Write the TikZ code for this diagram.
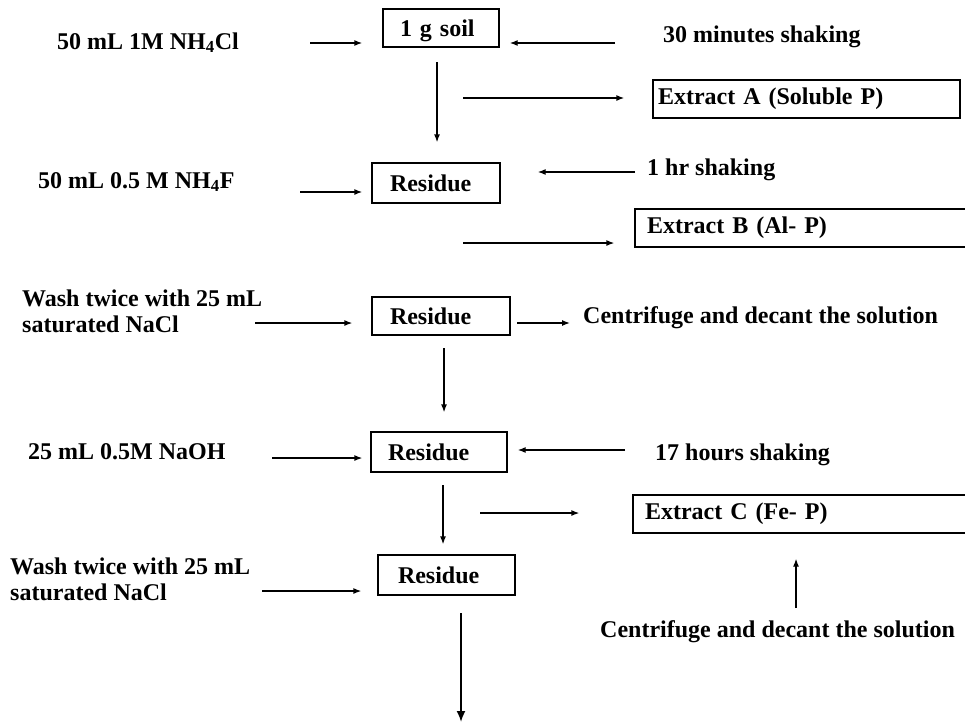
\documentclass[tikz,border=0pt]{standalone}
\usepackage{fontspec}
\setmainfont{Liberation Serif}
\usetikzlibrary{arrows.meta}
\begin{document}
\begin{tikzpicture}[x=1pt,y=-1pt,
  font=\fontsize{24}{26}\selectfont\bfseries,
  box/.style={draw, line width=1.3pt, inner ysep=0pt, align=left},
  lbl/.style={anchor=base west, inner sep=0pt},
  arr/.style={line width=1.3pt, -{Latex[length=8pt,width=6pt]}},
  bigarr/.style={line width=1.8pt, -{Latex[length=11pt,width=9pt]}}]
\clip (0,0) rectangle (965,723);
% boxes
\node[box, inner xsep=17pt, text width=82pt, minimum height=38pt, text depth=0pt] (soil) at (441,28) {1 g soil};
\node[box, inner xsep=18pt, text width=92pt, minimum height=40pt] (r1) at (436,183) {Residue};
\node[box, inner xsep=18pt, text width=102pt, minimum height=38pt] (r2) at (441,316) {Residue};
\node[box, inner xsep=17pt, text width=102pt, minimum height=40pt] (r3) at (439,452) {Residue};
\node[box, inner xsep=20pt, text width=97pt, minimum height=40pt] (r4) at (446.5,575) {Residue};
\node[box, inner xsep=5pt, text width=297pt, minimum height=38pt] (extA) at (806.5,99) {Extract A (Soluble P)};
\node[box, inner xsep=12pt, text width=316pt, minimum height=38pt] (extB) at (805,228) {Extract B (Al- P)};
\node[box, inner xsep=12pt, text width=318pt, minimum height=38pt] (extC) at (804,514) {Extract C (Fe- P)};
% labels
\node[lbl] (t1) at (57,49) {50 mL 1M NH\textsubscript{4}Cl};
\node[lbl] (s1) at (663,42) {30 minutes shaking};
\node[lbl] (t2) at (38,188) {50 mL 0.5 M NH\textsubscript{4}F};
\node[lbl] (s2) at (647,175) {1 hr shaking};
\node[lbl, align=left] (w1) at (22,332) {Wash twice with 25 mL\\saturated NaCl};
\node[lbl] (c1) at (583,323) {Centrifuge and decant the solution};
\node[lbl] (t3) at (28,459) {25 mL 0.5M NaOH};
\node[lbl] (s3) at (655,460) {17 hours shaking};
\node[lbl, align=left] (w2) at (10,600) {Wash twice with 25 mL\\saturated NaCl};
\node[lbl] (c2) at (600,637) {Centrifuge and decant the solution};
% arrow start points
\coordinate (p1) at (310,43);
\coordinate (p2) at (615,43);
\coordinate (v1) at (437,62);
\coordinate (e1) at (463,98);
\coordinate (p3) at (300,192);
\coordinate (p4) at (635,172);
\coordinate (e2) at (463,243);
\coordinate (p5) at (255,323);
\coordinate (p6) at (517,323);
\coordinate (v2) at (444,348);
\coordinate (p7) at (272,458);
\coordinate (p8) at (625,450);
\coordinate (v3) at (443,485);
\coordinate (e3) at (480,513);
\coordinate (p9) at (262,591);
\coordinate (v4) at (461,613);
\coordinate (v4end) at (461,722);
\coordinate (u1) at (796,608);
% connectors
\draw[arr, shorten >=20pt] (p1) -- (p1 -| soil.west);
\draw[arr, shorten >=10pt] (p2) -- (p2 -| soil.east);
\draw[arr, shorten >=20pt] (v1) -- (v1 |- r1.north);
\draw[arr, shorten >=28pt] (e1) -- (e1 -| extA.west);
\draw[arr, shorten >=9pt] (p3) -- (p3 -| r1.west);
\draw[arr, shorten >=37pt] (p4) -- (p4 -| r1.east);
\draw[arr, shorten >=20pt] (e2) -- (e2 -| extB.west);
\draw[arr, shorten >=19pt] (p5) -- (p5 -| r2.west);
\draw[arr, shorten >=13pt] (p6) -- (p6 -| c1.west);
\draw[arr, shorten >=19pt] (v2) -- (v2 |- r3.north);
\draw[arr, shorten >=8pt] (p7) -- (p7 -| r3.west);
\draw[arr, shorten >=10pt] (p8) -- (p8 -| r3.east);
\draw[arr, shorten >=10pt] (v3) -- (v3 |- r4.north);
\draw[arr, shorten >=53pt] (e3) -- (e3 -| extC.west);
\draw[arr, shorten >=16pt] (p9) -- (p9 -| r4.west);
\draw[bigarr] (v4) -- (v4end);
\draw[arr, shorten >=25pt] (u1) -- (u1 |- extC.south);
\end{tikzpicture}
\end{document}
